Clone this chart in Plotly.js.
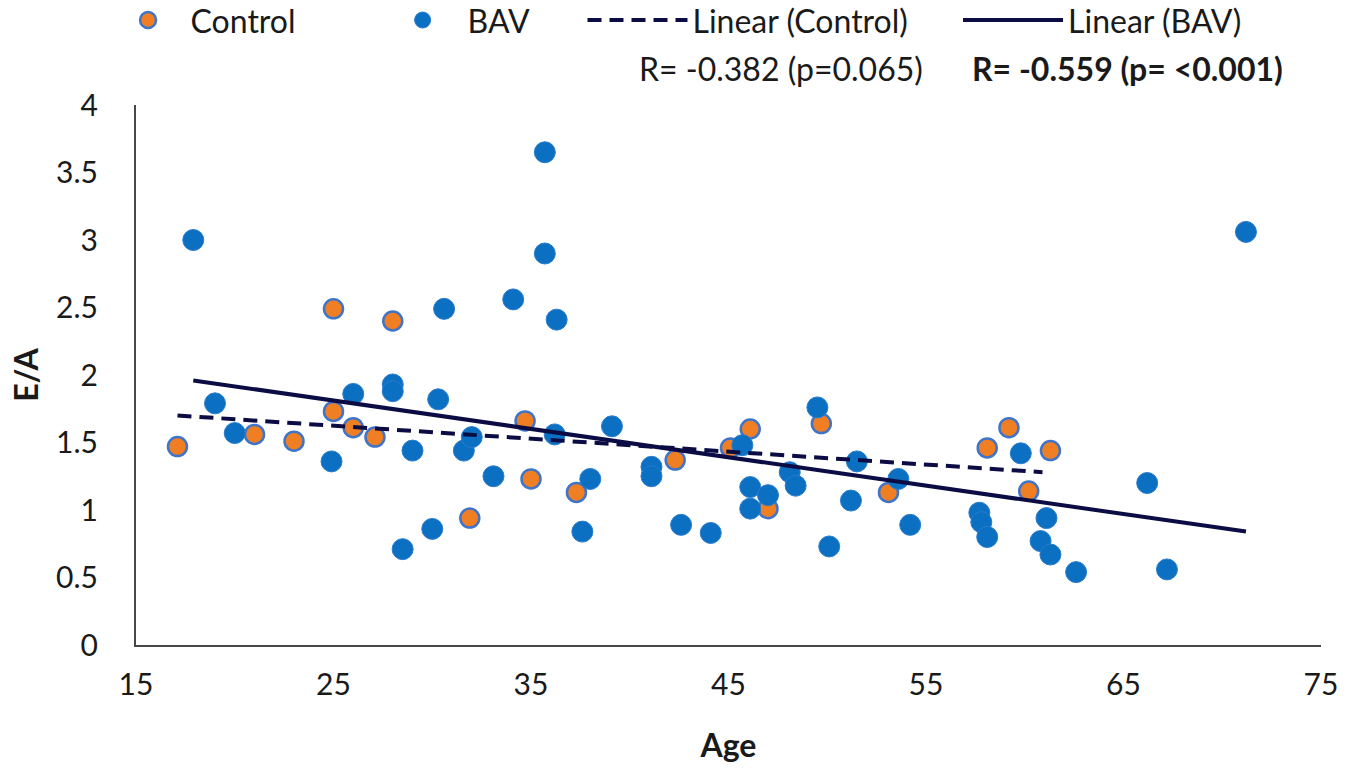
<!DOCTYPE html>
<html>
<head>
<meta charset="utf-8">
<script src="https://cdn.plot.ly/plotly-3.0.1.min.js"></script>
<style>
  html, body { margin: 0; padding: 0; background: #fff; }
  #ea-age-plot { width: 1350px; height: 774px; }
</style>
</head>
<body>
<div id="ea-age-plot"></div>
<script>
// E/A ratio against age, control vs BAV, with Excel-style linear trendlines
var controlAge = [17.1, 21.0, 23.0, 25.0, 25.0, 26.0, 27.1, 28.0, 31.9, 34.7, 35.0,
                  37.3, 42.3, 45.1, 46.1, 47.0, 49.7, 53.1, 58.1, 59.2, 60.2, 61.3];
var controlEA  = [1.47, 1.56, 1.51, 2.49, 1.73, 1.61, 1.54, 2.40, 0.94, 1.66, 1.23,
                  1.13, 1.37, 1.46, 1.60, 1.01, 1.64, 1.13, 1.46, 1.61, 1.14, 1.44];

var bavAge = [17.9, 19.0, 20.0, 24.9, 26.0, 28.0, 28.0, 28.5, 29.0, 30.0, 30.3, 30.6,
              31.6, 32.0, 33.1, 34.1, 35.7, 35.7, 36.2, 36.3, 37.6, 38.0, 39.1, 41.1,
              41.1, 42.6, 44.1, 45.7, 46.1, 46.1, 47.0, 48.1, 48.4, 49.5, 50.1, 51.2,
              51.5, 53.6, 54.2, 57.7, 57.8, 58.1, 59.8, 60.8, 61.1, 61.3, 62.6, 66.2,
              67.2, 71.2];
var bavEA  = [3.00, 1.79, 1.57, 1.36, 1.86, 1.93, 1.88, 0.71, 1.44, 0.86, 1.82, 2.49,
              1.44, 1.54, 1.25, 2.56, 3.65, 2.90, 1.56, 2.41, 0.84, 1.23, 1.62, 1.32,
              1.25, 0.89, 0.83, 1.48, 1.17, 1.01, 1.11, 1.28, 1.18, 1.76, 0.73, 1.07,
              1.36, 1.23, 0.89, 0.98, 0.91, 0.80, 1.42, 0.77, 0.94, 0.67, 0.54, 1.20,
              0.56, 3.06];

// trendline end points as drawn
var controlTrendAge = [17.1, 60.9];
var controlTrendEA  = [1.70, 1.28];
var bavTrendAge = [17.9, 71.2];
var bavTrendEA  = [1.96, 0.84];

var xTicks = [15, 25, 35, 45, 55, 65, 75];
var yTicks = [0, 0.5, 1, 1.5, 2, 2.5, 3, 3.5, 4];
var rLabels = ['R= -0.382 (p=0.065)', '<b>R= -0.559 (p= <0.001)</b>'];

var FONT = 'Lato, "Open Sans", sans-serif';
var TXT = '#1a1a1a';
var BLUE = '#0b6fc2';
var ORANGE = '#f07f23';
var NAVY = '#0c0c45';

var traces = [
  {
    x: controlAge, y: controlEA, type: 'scatter', mode: 'markers', name: 'Control',
    legend: 'legend',
    marker: { size: 19, color: ORANGE, line: { color: '#3f74c8', width: 2.5 } }
  },
  {
    x: bavAge, y: bavEA, type: 'scatter', mode: 'markers', name: 'BAV',
    legend: 'legend2',
    marker: { size: 21, color: BLUE, line: { color: '#2a7ccc', width: 1 } }
  },
  {
    x: controlTrendAge, y: controlTrendEA, type: 'scatter', mode: 'lines',
    name: 'Linear (Control)', legend: 'legend3',
    line: { color: NAVY, width: 4, dash: '14px,8px' }
  },
  {
    x: bavTrendAge, y: bavTrendEA, type: 'scatter', mode: 'lines',
    name: 'Linear (BAV)', legend: 'legend4',
    line: { color: NAVY, width: 4 }
  }
];

function legendAt(x, itemwidth) {
  return {
    orientation: 'h',
    x: x, xanchor: 'left',
    y: 1.157, yanchor: 'middle',
    itemwidth: itemwidth,
    font: { family: FONT, size: 32, color: TXT },
    bgcolor: 'rgba(0,0,0,0)',
    borderwidth: 0
  };
}

var layout = {
  width: 1350,
  height: 774,
  margin: { l: 136, r: 29, t: 105, b: 129, autoexpand: false },
  paper_bgcolor: '#fff',
  plot_bgcolor: '#fff',
  font: { family: FONT, size: 30, color: TXT },
  showlegend: true,
  legend: legendAt(-0.0257, 75),
  legend2: legendAt(0.2039, 80),
  legend3: legendAt(0.3768, 100),
  legend4: legendAt(0.6937, 100),
  xaxis: {
    range: [15, 75],
    tickvals: xTicks,
    ticktext: xTicks.map(String),
    showgrid: false,
    zeroline: false,
    showline: true,
    linecolor: '#484848',
    linewidth: 2,
    ticks: '',
    ticklabelstandoff: 12,
    tickfont: { family: FONT, size: 30, color: TXT },
    title: { text: '<b>Age</b>', standoff: 35, font: { family: FONT, size: 32, color: TXT } }
  },
  yaxis: {
    range: [0, 4],
    tickvals: yTicks,
    ticktext: yTicks.map(String),
    showgrid: false,
    zeroline: false,
    showline: true,
    linecolor: '#484848',
    linewidth: 2,
    ticks: '',
    ticklabelstandoff: 30,
    tickfont: { family: FONT, size: 30, color: TXT },
    title: { text: '<b>E/A</b>', standoff: 8, font: { family: FONT, size: 32, color: TXT } }
  },
  annotations: [
    {
      xref: 'paper', yref: 'paper', x: 0.6658, y: 1.0685, xanchor: 'right', yanchor: 'middle',
      text: rLabels[0], showarrow: false, font: { family: FONT, size: 32, color: TXT }
    },
    {
      xref: 'paper', yref: 'paper', x: 0.9696, y: 1.0685, xanchor: 'right', yanchor: 'middle',
      text: rLabels[1], showarrow: false, font: { family: FONT, size: 32, color: TXT }
    }
  ]
};

Plotly.newPlot('ea-age-plot', traces, layout, { displayModeBar: false, responsive: false });
</script>
</body>
</html>
